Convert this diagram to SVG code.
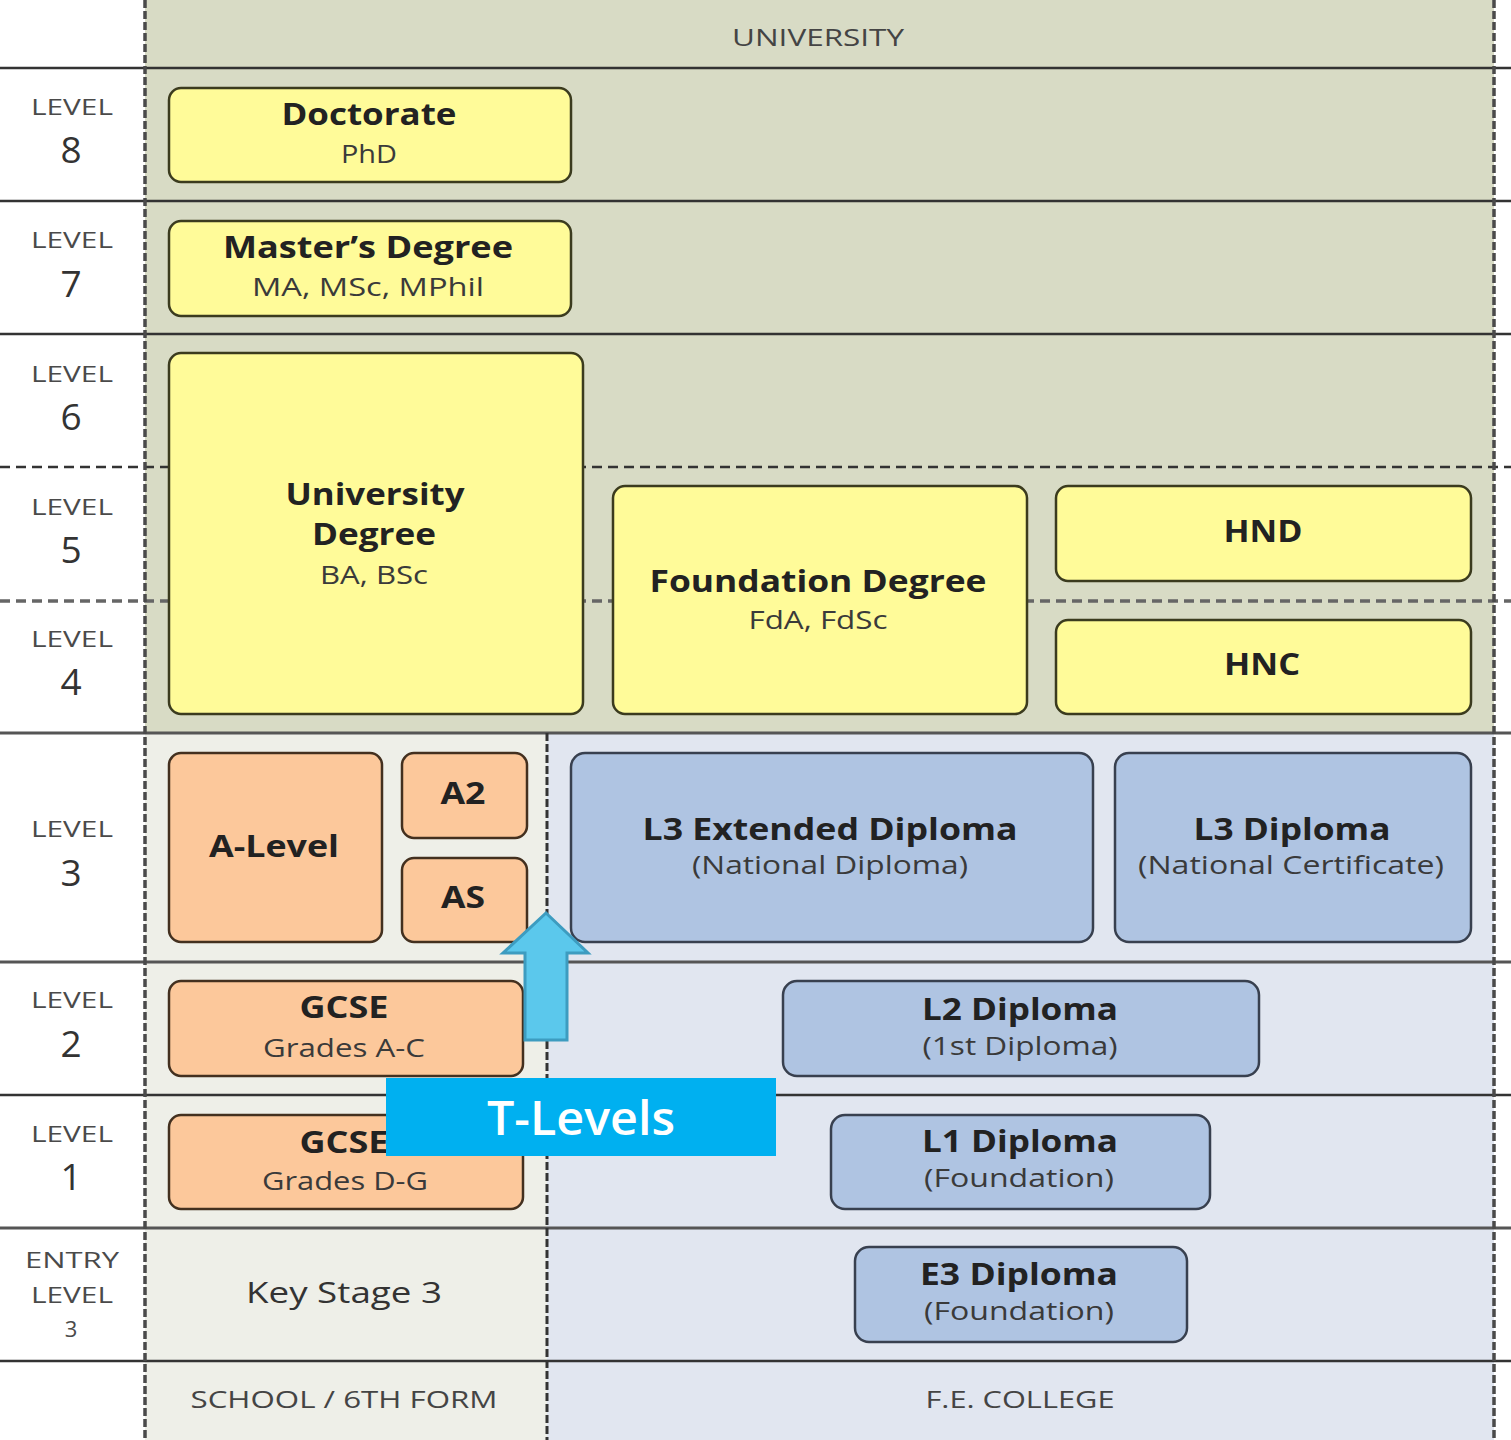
<svg xmlns="http://www.w3.org/2000/svg" width="1511" height="1440" viewBox="0 0 1511 1440">
<style>
text{font-family:"Open Sans","Liberation Sans",sans-serif;text-anchor:middle}
.lv{font-size:22px;fill:#4a4a4a}
.num{font-size:37px;fill:#333}
.hd{font-size:23px;fill:#444}
.t{font-size:30px;font-weight:bold;fill:#222}
.s{font-size:25px;fill:#3a3a3a}
.yel{fill:#FFFB99;stroke:#3b3b1e;stroke-width:2.5}
.org{fill:#FCC89B;stroke:#43301f;stroke-width:2.5}
.blu{fill:#AFC4E2;stroke:#38404f;stroke-width:2.5}
.hl{stroke:#333;stroke-width:2.5}
.dl{stroke:#333;stroke-width:2.5;stroke-dasharray:10 6}
.vd{stroke:#4a4a4a;stroke-width:3.5;stroke-dasharray:8 3}
</style>
<rect x="0" y="0" width="1511" height="1440" fill="#fff"/>
<g id="backgrounds">
<rect x="145" y="0" width="1349" height="733" fill="#D8DBC5"/>
<rect x="145" y="733" width="402" height="707" fill="#EEEFE8"/>
<rect x="547" y="733" width="947" height="707" fill="#E1E6F0"/>
</g>
<g id="grid">
<line class="hl" x1="0" y1="68" x2="1511" y2="68"/>
<line class="hl" x1="0" y1="201" x2="1511" y2="201"/>
<line class="hl" x1="0" y1="334" x2="1511" y2="334"/>
<line class="dl" x1="0" y1="467" x2="1511" y2="467"/>
<line class="dl" x1="0" y1="601" x2="1511" y2="601" style="stroke:#666;stroke-width:3.5"/>
<line class="hl" x1="0" y1="733" x2="1511" y2="733" style="stroke:#555;stroke-width:3"/>
<line class="hl" x1="0" y1="962" x2="1511" y2="962" style="stroke:#555;stroke-width:3"/>
<line class="hl" x1="0" y1="1095" x2="1511" y2="1095"/>
<line class="hl" x1="0" y1="1228" x2="1511" y2="1228" style="stroke:#555;stroke-width:3"/>
<line class="hl" x1="0" y1="1361" x2="1511" y2="1361"/>
<line class="vd" x1="145" y1="0" x2="145" y2="1440"/>
<line class="vd" x1="1494" y1="0" x2="1494" y2="1440"/>
<line class="vd" x1="547" y1="733" x2="547" y2="1440" style="stroke:#333;stroke-width:3"/>
</g>
<g id="labels">
<text class="hd" x="818" y="46" textLength="172" lengthAdjust="spacingAndGlyphs">UNIVERSITY</text>
<text class="lv" x="72" y="115" textLength="82" lengthAdjust="spacingAndGlyphs">LEVEL</text>
<text class="num" x="71" y="163">8</text>
<text class="lv" x="72" y="248" textLength="82" lengthAdjust="spacingAndGlyphs">LEVEL</text>
<text class="num" x="71" y="297">7</text>
<text class="lv" x="72" y="382" textLength="82" lengthAdjust="spacingAndGlyphs">LEVEL</text>
<text class="num" x="71" y="430">6</text>
<text class="lv" x="72" y="515" textLength="82" lengthAdjust="spacingAndGlyphs">LEVEL</text>
<text class="num" x="71" y="563">5</text>
<text class="lv" x="72" y="647" textLength="82" lengthAdjust="spacingAndGlyphs">LEVEL</text>
<text class="num" x="71" y="695">4</text>
<text class="lv" x="72" y="837" textLength="82" lengthAdjust="spacingAndGlyphs">LEVEL</text>
<text class="num" x="71" y="886">3</text>
<text class="lv" x="72" y="1008" textLength="82" lengthAdjust="spacingAndGlyphs">LEVEL</text>
<text class="num" x="71" y="1057">2</text>
<text class="lv" x="72" y="1142" textLength="82" lengthAdjust="spacingAndGlyphs">LEVEL</text>
<text class="num" x="71" y="1190">1</text>
<text class="lv" x="72" y="1268" textLength="94" lengthAdjust="spacingAndGlyphs">ENTRY</text>
<text class="lv" x="72" y="1303" textLength="82" lengthAdjust="spacingAndGlyphs">LEVEL</text>
<text class="lv" x="71" y="1337">3</text>
<text x="344" y="1303" style="font-size:29px;fill:#333" textLength="196" lengthAdjust="spacingAndGlyphs">Key Stage 3</text>
<text class="hd" x="344" y="1408" textLength="307" lengthAdjust="spacingAndGlyphs">SCHOOL / 6TH FORM</text>
<text class="hd" x="1020" y="1408" textLength="189" lengthAdjust="spacingAndGlyphs">F.E. COLLEGE</text>
</g>
<g id="doctorate">
<rect class="yel" x="169" y="88" width="402" height="94" rx="12"/>
<text class="t" x="369" y="125" textLength="175" lengthAdjust="spacingAndGlyphs">Doctorate</text>
<text class="s" x="369" y="163" textLength="56" lengthAdjust="spacingAndGlyphs">PhD</text>
</g>
<g id="masters">
<rect class="yel" x="169" y="221" width="402" height="95" rx="12"/>
<text class="t" x="368" y="258" textLength="290" lengthAdjust="spacingAndGlyphs">Master’s Degree</text>
<text class="s" x="368" y="296" textLength="232" lengthAdjust="spacingAndGlyphs">MA, MSc, MPhil</text>
</g>
<g id="university-degree">
<rect class="yel" x="169" y="353" width="414" height="361" rx="12"/>
<text class="t" x="375" y="505" textLength="179" lengthAdjust="spacingAndGlyphs">University</text>
<text class="t" x="374" y="545" textLength="124" lengthAdjust="spacingAndGlyphs">Degree</text>
<text class="s" x="374" y="584" textLength="108" lengthAdjust="spacingAndGlyphs">BA, BSc</text>
</g>
<g id="foundation-degree">
<rect class="yel" x="613" y="486" width="414" height="228" rx="12"/>
<text class="t" x="818" y="592" textLength="337" lengthAdjust="spacingAndGlyphs">Foundation Degree</text>
<text class="s" x="818" y="629" textLength="139" lengthAdjust="spacingAndGlyphs">FdA, FdSc</text>
</g>
<g id="hnd">
<rect class="yel" x="1056" y="486" width="415" height="95" rx="12"/>
<text class="t" x="1263" y="542" textLength="79" lengthAdjust="spacingAndGlyphs">HND</text>
</g>
<g id="hnc">
<rect class="yel" x="1056" y="620" width="415" height="94" rx="12"/>
<text class="t" x="1262" y="675" textLength="76" lengthAdjust="spacingAndGlyphs">HNC</text>
</g>
<g id="a-level">
<rect class="org" x="169" y="753" width="213" height="189" rx="12"/>
<text class="t" x="274" y="857" textLength="130" lengthAdjust="spacingAndGlyphs">A-Level</text>
</g>
<g id="a2">
<rect class="org" x="402" y="753" width="125" height="85" rx="12"/>
<text class="t" x="463" y="804" textLength="45" lengthAdjust="spacingAndGlyphs">A2</text>
</g>
<g id="as">
<rect class="org" x="402" y="858" width="125" height="84" rx="12"/>
<text class="t" x="463" y="908" textLength="44" lengthAdjust="spacingAndGlyphs">AS</text>
</g>
<g id="gcse-ac">
<rect class="org" x="169" y="981" width="354" height="95" rx="12"/>
<text class="t" x="344" y="1018" textLength="89" lengthAdjust="spacingAndGlyphs">GCSE</text>
<text class="s" x="344" y="1057" textLength="162" lengthAdjust="spacingAndGlyphs">Grades A-C</text>
</g>
<g id="gcse-dg">
<rect class="org" x="169" y="1115" width="354" height="94" rx="12"/>
<text class="t" x="344" y="1153" textLength="89" lengthAdjust="spacingAndGlyphs">GCSE</text>
<text class="s" x="345" y="1190" textLength="166" lengthAdjust="spacingAndGlyphs">Grades D-G</text>
</g>
<g id="l3-extended">
<rect class="blu" x="571" y="753" width="522" height="189" rx="14"/>
<text class="t" x="830" y="840" textLength="375" lengthAdjust="spacingAndGlyphs">L3 Extended Diploma</text>
<text class="s" x="830" y="874" textLength="276" lengthAdjust="spacingAndGlyphs">(National Diploma)</text>
</g>
<g id="l3-diploma">
<rect class="blu" x="1115" y="753" width="356" height="189" rx="14"/>
<text class="t" x="1292" y="840" textLength="197" lengthAdjust="spacingAndGlyphs">L3 Diploma</text>
<text class="s" x="1291" y="874" textLength="306" lengthAdjust="spacingAndGlyphs">(National Certificate)</text>
</g>
<g id="l2-diploma">
<rect class="blu" x="783" y="981" width="476" height="95" rx="14"/>
<text class="t" x="1020" y="1020" textLength="196" lengthAdjust="spacingAndGlyphs">L2 Diploma</text>
<text class="s" x="1020" y="1055" textLength="195" lengthAdjust="spacingAndGlyphs">(1st Diploma)</text>
</g>
<g id="l1-diploma">
<rect class="blu" x="831" y="1115" width="379" height="94" rx="14"/>
<text class="t" x="1020" y="1152" textLength="196" lengthAdjust="spacingAndGlyphs">L1 Diploma</text>
<text class="s" x="1019" y="1187" textLength="190" lengthAdjust="spacingAndGlyphs">(Foundation)</text>
</g>
<g id="e3-diploma">
<rect class="blu" x="855" y="1247" width="332" height="95" rx="14"/>
<text class="t" x="1019" y="1285" textLength="198" lengthAdjust="spacingAndGlyphs">E3 Diploma</text>
<text class="s" x="1019" y="1320" textLength="190" lengthAdjust="spacingAndGlyphs">(Foundation)</text>
</g>
<g id="connectors">
<path d="M546 913 L588 953 L567 953 L567 1040 L525 1040 L525 953 L503 953 Z" fill="#5BC8EC" stroke="#3D9CC0" stroke-width="3" stroke-linejoin="miter"/>
</g>
<g id="t-levels">
<rect x="386" y="1078" width="390" height="78" fill="#00B0F0"/>
<text x="581" y="1135" style="font-size:47px;fill:#fff;font-weight:600" textLength="188" lengthAdjust="spacingAndGlyphs">T-Levels</text>
</g>
</svg>
